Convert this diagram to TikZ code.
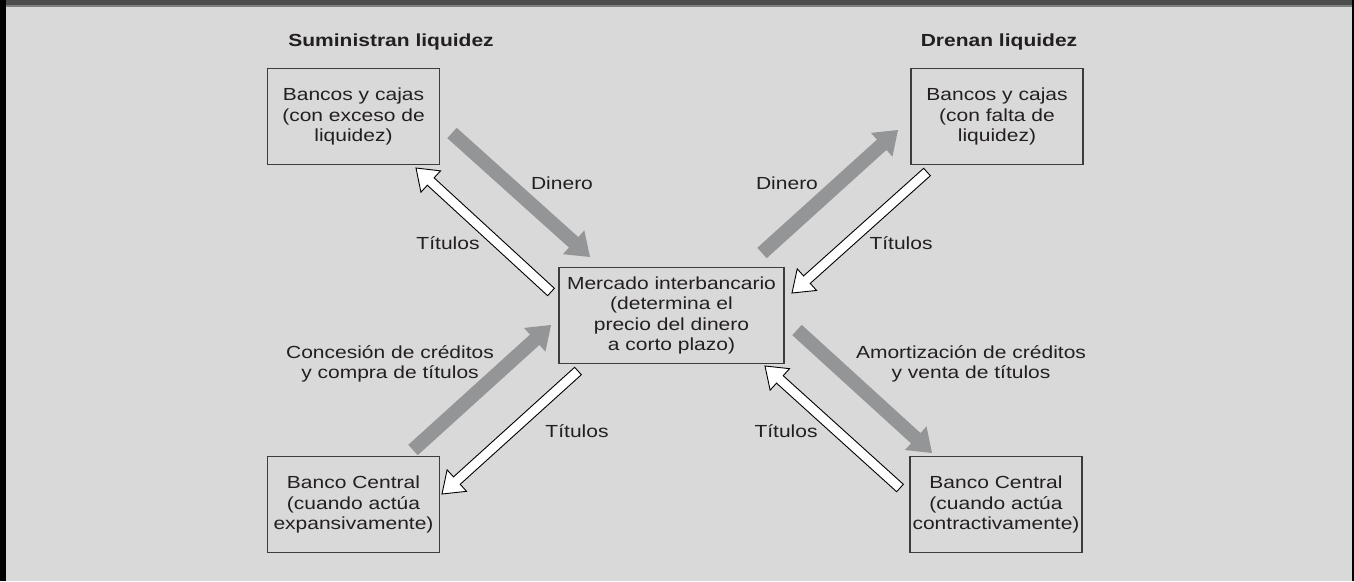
\documentclass[tikz,border=0pt]{standalone}
\usepackage{fontspec}
\setmainfont{Liberation Sans}[FakeStretch=1.2]
\usetikzlibrary{calc}
\definecolor{bg}{HTML}{D9D9D9}
\definecolor{bar}{HTML}{4D4D4D}
\definecolor{barline}{HTML}{7F7F7F}
\definecolor{ink}{HTML}{231F20}
\definecolor{boxline}{HTML}{3C3C3C}
\definecolor{flow}{HTML}{949597}
\newcommand\fatarrow[6]{%
  \coordinate (fa-base) at ($(#3)!#6!(#2)$);
  \draw[#1] ($(#2)!#4!90:(#3)$) -- ($(fa-base)!#4!90:(#3)$) -- ($(fa-base)!#5!90:(#3)$) -- (#3)
    -- ($(fa-base)!#5!-90:(#3)$) -- ($(fa-base)!#4!-90:(#3)$) -- ($(#2)!#4!-90:(#3)$) -- cycle;
}
\tikzset{
  txt/.style={text=ink, align=center, inner sep=0pt, font=\fontsize{17.5pt}{20.5pt}\selectfont},
  hdr/.style={text=ink, inner sep=0pt, font=\fontsize{17.5pt}{20.5pt}\selectfont\bfseries},
  box/.style={txt, draw=boxline, line width=1.2pt, minimum width=172pt, minimum height=96pt},
  money/.style={fill=flow, draw=none},
  paper/.style={fill=white, draw=black, line width=0.9pt, line join=miter},
}
\begin{document}
\begin{tikzpicture}[x=1pt,y=-1pt]
\useasboundingbox (0,0) rectangle (1354,581);
\fill[bg] (0,0) rectangle (1354,581);
\fill[bar] (0,0) rectangle (1354,5);
\fill[barline] (0,5) rectangle (1354,6.5);
\fill[black] (0,0) rectangle (5.5,581);
\fill[black] (1352.3,0) rectangle (1354,581);

% headers
\node[hdr] (hl) at (391,42) {Suministran liquidez};
\node[hdr] (hr) at (999,42) {Drenan liquidez};

% boxes
\node[box] (tl) at (353.5,116.5) {Bancos y cajas\\(con exceso de\\liquidez)};
\node[box] (tr) at (997,116.5) {Bancos y cajas\\(con falta de\\liquidez)};
\node[box, minimum width=225pt] (mid) at (671.5,315.5) {Mercado interbancario\\(determina el\\precio del dinero\\a corto plazo)};
\node[box] (bl) at (353.5,504.5) {Banco Central\\(cuando actúa\\expansivamente)};
\node[box] (br) at (996,504.5) {Banco Central\\(cuando actúa\\contractivamente)};

% arrow end points
\coordinate (g1a) at (452,133);  \coordinate (g1b) at (590,257);
\coordinate (w1a) at (551,292);  \coordinate (w1b) at (416,168);
\coordinate (g2a) at (762,253);  \coordinate (g2b) at (898,130);
\coordinate (w2a) at (927,172);  \coordinate (w2b) at (792,293);
\coordinate (g3a) at (413,450);  \coordinate (g3b) at (551,325);
\coordinate (w3a) at (578,371);  \coordinate (w3b) at (442,494);
\coordinate (g4a) at (797,330);  \coordinate (g4b) at (932,453);
\coordinate (w4a) at (900,488);  \coordinate (w4b) at (765,366);

\fatarrow{money}{g1a}{g1b}{7pt}{16pt}{22pt}
\fatarrow{money}{g2a}{g2b}{7pt}{16pt}{22pt}
\fatarrow{money}{g3a}{g3b}{7pt}{16pt}{22pt}
\fatarrow{money}{g4a}{g4b}{7pt}{16pt}{22pt}
\fatarrow{paper}{w1a}{w1b}{5pt}{14.5pt}{20pt}
\fatarrow{paper}{w2a}{w2b}{5pt}{14.5pt}{20pt}
\fatarrow{paper}{w3a}{w3b}{5pt}{14.5pt}{20pt}
\fatarrow{paper}{w4a}{w4b}{5pt}{14.5pt}{20pt}

% labels
\node[txt] (l1) at (562,183) {Dinero};
\node[txt] (l2) at (448,243) {Títulos};
\node[txt] (l3) at (787,183) {Dinero};
\node[txt] (l4) at (901,243) {Títulos};
\node[txt] (l5) at (390,364) {Concesión de créditos\\y compra de títulos};
\node[txt] (l6) at (577,431) {Títulos};
\node[txt] (l7) at (971,364) {Amortización de créditos\\y venta de títulos};
\node[txt] (l8) at (786,431) {Títulos};
\end{tikzpicture}
\end{document}
